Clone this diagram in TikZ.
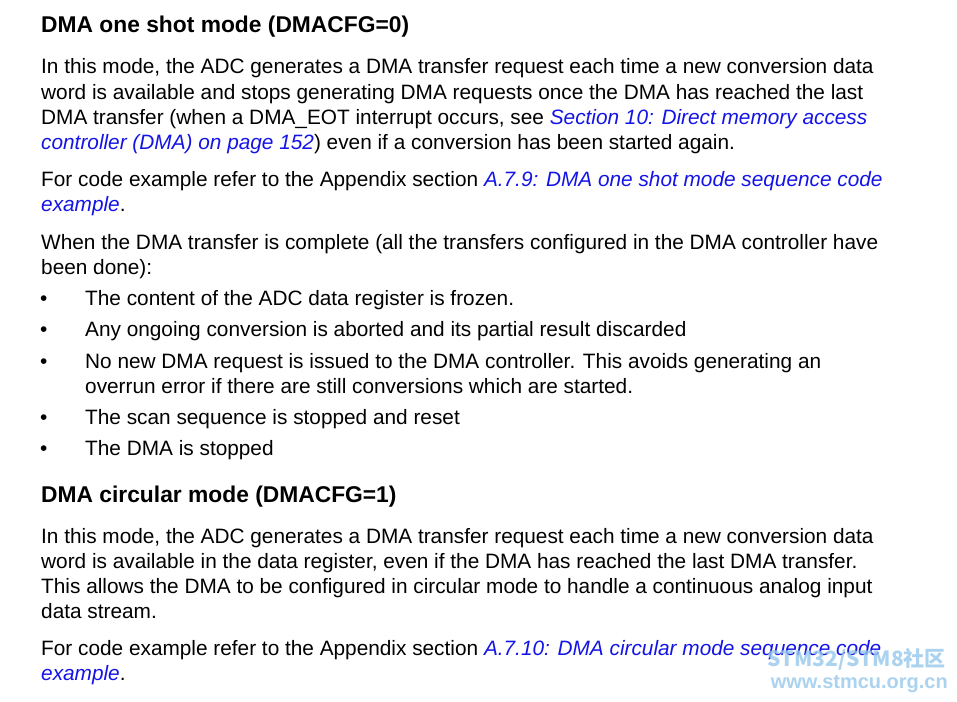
\documentclass[tikz,border=0pt]{standalone}
\usepackage{fontspec}
\setmainfont{Liberation Sans}
\newfontfamily\cjkf{Noto Sans CJK SC}
\definecolor{lnk}{RGB}{20,20,230}
\definecolor{wm}{RGB}{150,200,235}
\newcommand{\lk}[1]{\textcolor{lnk}{\itshape #1}}
\begin{document}
\begin{tikzpicture}[x=1pt,y=-1pt,
  t/.style={anchor=base west,inner sep=0pt,font=\fontsize{20.8}{24}\selectfont},
  h/.style={t,font=\fontsize{22.8}{24}\selectfont\bfseries},
  b/.style={anchor=base west,inner sep=0pt,font=\fontsize{20.8}{24}\selectfont}]
\useasboundingbox (0,0) rectangle (957,701);
\fill[white] (0,0) rectangle (957,701);
\node[h] (h1) at (41,33) {DMA one shot mode (DMACFG=0)};
\node[t] (a1) at (41,74) {In this mode, the ADC generates a DMA transfer request each time a new conversion data};
\node[t] (a2) at (41,99) {word is available and stops generating DMA requests once the DMA has reached the last};
\node[t] (a3) at (41,124) {DMA transfer (when a DMA\_EOT interrupt occurs, see \lk{Section 10: Direct memory access}};
\node[t] (a4) at (41,149) {\lk{controller (DMA) on page 152}) even if a conversion has been started again.};
\node[t] (b1) at (41,186) {For code example refer to the Appendix section \lk{A.7.9: DMA one shot mode sequence code}};
\node[t] (b2) at (41,211) {\lk{example}.};
\node[t] (c1) at (41,249) {When the DMA transfer is complete (all the transfers configured in the DMA controller have};
\node[t] (c2) at (41,274) {been done):};
\foreach \y/\n/\s in {305/d1/{The content of the ADC data register is frozen.},
  336/d2/{Any ongoing conversion is aborted and its partial result discarded},
  368/d3/{No new DMA request is issued to the DMA controller. This avoids generating an},
  424/d5/{The scan sequence is stopped and reset},
  455/d6/{The DMA is stopped}}{
  \node[b] (\n b) at (40,\y) {\textbullet};
  \node[t] (\n) at (85,\y) {\s};
}
\node[t] (d4) at (85,393) {overrun error if there are still conversions which are started.};
\node[h] (h2) at (41,502) {DMA circular mode (DMACFG=1)};
\node[t] (e1) at (41,543) {In this mode, the ADC generates a DMA transfer request each time a new conversion data};
\node[t] (e2) at (41,568) {word is available in the data register, even if the DMA has reached the last DMA transfer.};
\node[t] (e3) at (41,593) {This allows the DMA to be configured in circular mode to handle a continuous analog input};
\node[t] (e4) at (41,618) {data stream.};
\node[t] (f1) at (41,655) {For code example refer to the Appendix section \lk{A.7.10: DMA circular mode sequence code}};
\node[t] (f2) at (41,680) {\lk{example}.};
\node[anchor=base east,inner sep=0pt,text=wm,font=\cjkf\fontsize{21}{24}\selectfont\bfseries,opacity=0.8] (w1) at (946,666) {STM32/STM8社区};
\node[anchor=base east,inner sep=0pt,text=wm,font=\fontsize{20}{24}\selectfont\bfseries,opacity=0.8] (w2) at (948,688) {www.stmcu.org.cn};
\end{tikzpicture}
\end{document}
